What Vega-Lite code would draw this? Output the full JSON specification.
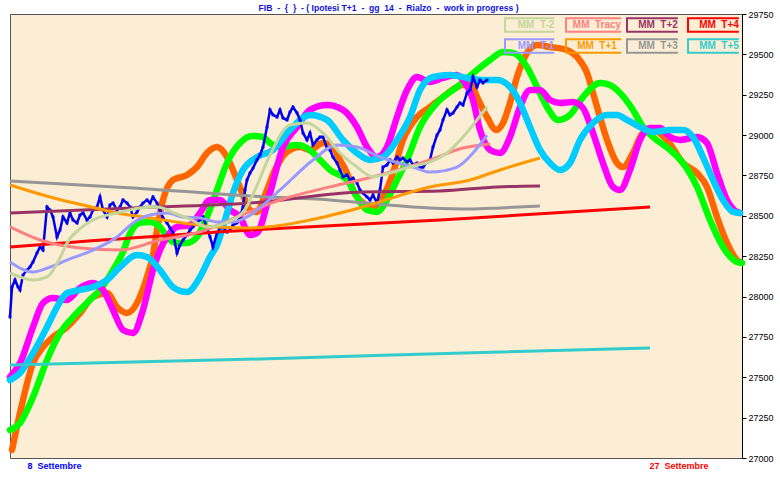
{
"$schema": "https://vega.github.io/schema/vega-lite/v6.json",
"width": 732, "height": 444,
"autosize": {"type": "none"},
"padding": {"left": 10, "top": 14, "right": 38, "bottom": 19},
"background": "white",
"config": {"view": {"fill": "#FBEED5", "stroke": "#555555", "strokeWidth": 1}, "font": "Liberation Sans"},
"title": {"text": "FIB\u00a0 -\u00a0 {\u00a0 }\u00a0 - ( Ipotesi T+1\u00a0 -\u00a0 gg\u00a0 14\u00a0 -\u00a0 Rialzo\u00a0 -\u00a0 work in progress )", "font": "Liberation Sans", "fontSize": 8.6, "fontWeight": "bold", "color": "#1010E0", "anchor": "middle", "frame": "bounds", "offset": -3},
"datasets": {
"thick": [
{"series":"Ciclo 1","t":12,"v":27050},{"series":"Ciclo 1","t":20,"v":27279},{"series":"Ciclo 1","t":33,"v":27588},{"series":"Ciclo 1","t":43,"v":27688},{"series":"Ciclo 1","t":53,"v":27749},{"series":"Ciclo 1","t":67,"v":27811},{"series":"Ciclo 1","t":80,"v":27898},{"series":"Ciclo 1","t":93,"v":27997},{"series":"Ciclo 1","t":107,"v":28022},{"series":"Ciclo 1","t":117,"v":27935},{"series":"Ciclo 1","t":127,"v":27898},{"series":"Ciclo 1","t":137,"v":27960},{"series":"Ciclo 1","t":147,"v":28121},{"series":"Ciclo 1","t":153,"v":28257},{"series":"Ciclo 1","t":157,"v":28412},{"series":"Ciclo 1","t":163,"v":28598},{"series":"Ciclo 1","t":173,"v":28722},{"series":"Ciclo 1","t":187,"v":28753},{"series":"Ciclo 1","t":197,"v":28802},{"series":"Ciclo 1","t":207,"v":28889},{"series":"Ciclo 1","t":217,"v":28926},{"series":"Ciclo 1","t":227,"v":28864},{"series":"Ciclo 1","t":235,"v":28753},{"series":"Ciclo 1","t":243,"v":28629},{"series":"Ciclo 1","t":250,"v":28536},{"series":"Ciclo 1","t":257,"v":28524},{"series":"Ciclo 1","t":265,"v":28629},{"series":"Ciclo 1","t":275,"v":28784},{"series":"Ciclo 1","t":287,"v":28895},{"series":"Ciclo 1","t":300,"v":28926},{"series":"Ciclo 1","t":310,"v":28908},{"series":"Ciclo 1","t":323,"v":28951},{"series":"Ciclo 1","t":333,"v":28926},{"series":"Ciclo 1","t":340,"v":28846},{"series":"Ciclo 1","t":347,"v":28765},{"series":"Ciclo 1","t":353,"v":28660},{"series":"Ciclo 1","t":363,"v":28579},{"series":"Ciclo 1","t":373,"v":28555},{"series":"Ciclo 1","t":383,"v":28617},{"series":"Ciclo 1","t":393,"v":28765},{"series":"Ciclo 1","t":403,"v":28970},{"series":"Ciclo 1","t":417,"v":29112},{"series":"Ciclo 1","t":430,"v":29174},{"series":"Ciclo 1","t":443,"v":29236},{"series":"Ciclo 1","t":457,"v":29298},{"series":"Ciclo 1","t":470,"v":29323},{"series":"Ciclo 1","t":477,"v":29236},{"series":"Ciclo 1","t":487,"v":29112},{"series":"Ciclo 1","t":496,"v":29032},{"series":"Ciclo 1","t":503,"v":29075},{"series":"Ciclo 1","t":510,"v":29199},{"series":"Ciclo 1","t":517,"v":29360},{"series":"Ciclo 1","t":527,"v":29509},{"series":"Ciclo 1","t":537,"v":29558},{"series":"Ciclo 1","t":550,"v":29546},{"series":"Ciclo 1","t":567,"v":29527},{"series":"Ciclo 1","t":577,"v":29484},{"series":"Ciclo 1","t":587,"v":29385},{"series":"Ciclo 1","t":593,"v":29261},{"series":"Ciclo 1","t":600,"v":29112},{"series":"Ciclo 1","t":607,"v":28970},{"series":"Ciclo 1","t":617,"v":28827},{"series":"Ciclo 1","t":623,"v":28802},{"series":"Ciclo 1","t":633,"v":28889},{"series":"Ciclo 1","t":643,"v":29013},{"series":"Ciclo 1","t":653,"v":29032},{"series":"Ciclo 1","t":667,"v":28970},{"series":"Ciclo 1","t":683,"v":28827},{"series":"Ciclo 1","t":697,"v":28765},{"series":"Ciclo 1","t":707,"v":28679},{"series":"Ciclo 1","t":717,"v":28493},{"series":"Ciclo 1","t":727,"v":28332},{"series":"Ciclo 1","t":737,"v":28226},{"series":"Ciclo 1","t":740,"v":28214},
{"series":"Ciclo 2","t":10,"v":27173},{"series":"Ciclo 2","t":20,"v":27217},{"series":"Ciclo 2","t":33,"v":27378},{"series":"Ciclo 2","t":47,"v":27607},{"series":"Ciclo 2","t":60,"v":27774},{"series":"Ciclo 2","t":73,"v":27873},{"series":"Ciclo 2","t":90,"v":27979},{"series":"Ciclo 2","t":100,"v":28041},{"series":"Ciclo 2","t":113,"v":28164},{"series":"Ciclo 2","t":123,"v":28276},{"series":"Ciclo 2","t":130,"v":28390},{"series":"Ciclo 2","t":140,"v":28456},{"series":"Ciclo 2","t":150,"v":28462},{"series":"Ciclo 2","t":160,"v":28431},{"series":"Ciclo 2","t":167,"v":28369},{"series":"Ciclo 2","t":177,"v":28332},{"series":"Ciclo 2","t":187,"v":28332},{"series":"Ciclo 2","t":197,"v":28369},{"series":"Ciclo 2","t":207,"v":28493},{"series":"Ciclo 2","t":217,"v":28660},{"series":"Ciclo 2","t":227,"v":28827},{"series":"Ciclo 2","t":240,"v":28951},{"series":"Ciclo 2","t":252,"v":28995},{"series":"Ciclo 2","t":262,"v":28990},{"series":"Ciclo 2","t":270,"v":28951},{"series":"Ciclo 2","t":280,"v":28926},{"series":"Ciclo 2","t":297,"v":28939},{"series":"Ciclo 2","t":307,"v":28920},{"series":"Ciclo 2","t":320,"v":28846},{"series":"Ciclo 2","t":330,"v":28784},{"series":"Ciclo 2","t":347,"v":28722},{"series":"Ciclo 2","t":357,"v":28617},{"series":"Ciclo 2","t":367,"v":28536},{"series":"Ciclo 2","t":377,"v":28524},{"series":"Ciclo 2","t":387,"v":28598},{"series":"Ciclo 2","t":397,"v":28722},{"series":"Ciclo 2","t":407,"v":28846},{"series":"Ciclo 2","t":420,"v":29050},{"series":"Ciclo 2","t":437,"v":29199},{"series":"Ciclo 2","t":457,"v":29298},{"series":"Ciclo 2","t":477,"v":29403},{"series":"Ciclo 2","t":490,"v":29465},{"series":"Ciclo 2","t":503,"v":29515},{"series":"Ciclo 2","t":513,"v":29509},{"series":"Ciclo 2","t":527,"v":29422},{"series":"Ciclo 2","t":537,"v":29298},{"series":"Ciclo 2","t":547,"v":29174},{"series":"Ciclo 2","t":558,"v":29094},{"series":"Ciclo 2","t":570,"v":29125},{"series":"Ciclo 2","t":583,"v":29236},{"series":"Ciclo 2","t":600,"v":29323},{"series":"Ciclo 2","t":610,"v":29310},{"series":"Ciclo 2","t":620,"v":29261},{"series":"Ciclo 2","t":633,"v":29156},{"series":"Ciclo 2","t":643,"v":29050},{"series":"Ciclo 2","t":653,"v":28988},{"series":"Ciclo 2","t":670,"v":28908},{"series":"Ciclo 2","t":683,"v":28827},{"series":"Ciclo 2","t":697,"v":28679},{"series":"Ciclo 2","t":710,"v":28474},{"series":"Ciclo 2","t":723,"v":28307},{"series":"Ciclo 2","t":737,"v":28214},{"series":"Ciclo 2","t":742,"v":28208},
{"series":"Ciclo 3","t":10,"v":27502},{"series":"Ciclo 3","t":20,"v":27588},{"series":"Ciclo 3","t":33,"v":27811},{"series":"Ciclo 3","t":43,"v":27960},{"series":"Ciclo 3","t":53,"v":27991},{"series":"Ciclo 3","t":67,"v":27979},{"series":"Ciclo 3","t":80,"v":28053},{"series":"Ciclo 3","t":93,"v":28084},{"series":"Ciclo 3","t":103,"v":28041},{"series":"Ciclo 3","t":113,"v":27917},{"series":"Ciclo 3","t":123,"v":27793},{"series":"Ciclo 3","t":133,"v":27774},{"series":"Ciclo 3","t":143,"v":27917},{"series":"Ciclo 3","t":153,"v":28164},{"series":"Ciclo 3","t":160,"v":28288},{"series":"Ciclo 3","t":167,"v":28369},{"series":"Ciclo 3","t":177,"v":28431},{"series":"Ciclo 3","t":190,"v":28443},{"series":"Ciclo 3","t":200,"v":28518},{"series":"Ciclo 3","t":210,"v":28598},{"series":"Ciclo 3","t":220,"v":28598},{"series":"Ciclo 3","t":230,"v":28536},{"series":"Ciclo 3","t":240,"v":28493},{"series":"Ciclo 3","t":250,"v":28381},{"series":"Ciclo 3","t":257,"v":28394},{"series":"Ciclo 3","t":270,"v":28641},{"series":"Ciclo 3","t":283,"v":28926},{"series":"Ciclo 3","t":297,"v":29050},{"series":"Ciclo 3","t":310,"v":29156},{"series":"Ciclo 3","t":327,"v":29186},{"series":"Ciclo 3","t":343,"v":29156},{"series":"Ciclo 3","t":357,"v":29050},{"series":"Ciclo 3","t":367,"v":28926},{"series":"Ciclo 3","t":377,"v":28864},{"series":"Ciclo 3","t":387,"v":28926},{"series":"Ciclo 3","t":397,"v":29112},{"series":"Ciclo 3","t":407,"v":29279},{"series":"Ciclo 3","t":417,"v":29360},{"series":"Ciclo 3","t":430,"v":29329},{"series":"Ciclo 3","t":443,"v":29354},{"series":"Ciclo 3","t":457,"v":29372},{"series":"Ciclo 3","t":463,"v":29341},{"series":"Ciclo 3","t":473,"v":29217},{"series":"Ciclo 3","t":480,"v":29032},{"series":"Ciclo 3","t":490,"v":28908},{"series":"Ciclo 3","t":500,"v":28889},{"series":"Ciclo 3","t":510,"v":28988},{"series":"Ciclo 3","t":520,"v":29174},{"series":"Ciclo 3","t":530,"v":29279},{"series":"Ciclo 3","t":540,"v":29279},{"series":"Ciclo 3","t":550,"v":29217},{"series":"Ciclo 3","t":560,"v":29199},{"series":"Ciclo 3","t":573,"v":29205},{"series":"Ciclo 3","t":583,"v":29168},{"series":"Ciclo 3","t":593,"v":29013},{"series":"Ciclo 3","t":603,"v":28827},{"series":"Ciclo 3","t":613,"v":28679},{"series":"Ciclo 3","t":620,"v":28660},{"series":"Ciclo 3","t":630,"v":28784},{"series":"Ciclo 3","t":640,"v":28970},{"series":"Ciclo 3","t":650,"v":29044},{"series":"Ciclo 3","t":660,"v":29044},{"series":"Ciclo 3","t":670,"v":28988},{"series":"Ciclo 3","t":680,"v":28970},{"series":"Ciclo 3","t":697,"v":28988},{"series":"Ciclo 3","t":707,"v":28951},{"series":"Ciclo 3","t":717,"v":28765},{"series":"Ciclo 3","t":727,"v":28598},{"series":"Ciclo 3","t":737,"v":28524},{"series":"Ciclo 3","t":740,"v":28518},
{"series":"Ciclo 4","t":10,"v":27483},{"series":"Ciclo 4","t":20,"v":27527},{"series":"Ciclo 4","t":33,"v":27650},{"series":"Ciclo 4","t":47,"v":27811},{"series":"Ciclo 4","t":57,"v":27935},{"series":"Ciclo 4","t":67,"v":28022},{"series":"Ciclo 4","t":80,"v":28041},{"series":"Ciclo 4","t":93,"v":28059},{"series":"Ciclo 4","t":107,"v":28103},{"series":"Ciclo 4","t":120,"v":28183},{"series":"Ciclo 4","t":137,"v":28257},{"series":"Ciclo 4","t":147,"v":28245},{"series":"Ciclo 4","t":160,"v":28164},{"series":"Ciclo 4","t":173,"v":28059},{"series":"Ciclo 4","t":187,"v":28028},{"series":"Ciclo 4","t":200,"v":28121},{"series":"Ciclo 4","t":210,"v":28245},{"series":"Ciclo 4","t":217,"v":28319},{"series":"Ciclo 4","t":225,"v":28474},{"series":"Ciclo 4","t":233,"v":28641},{"series":"Ciclo 4","t":243,"v":28784},{"series":"Ciclo 4","t":257,"v":28864},{"series":"Ciclo 4","t":273,"v":28908},{"series":"Ciclo 4","t":290,"v":29032},{"series":"Ciclo 4","t":310,"v":29125},{"series":"Ciclo 4","t":327,"v":29094},{"series":"Ciclo 4","t":343,"v":28970},{"series":"Ciclo 4","t":357,"v":28889},{"series":"Ciclo 4","t":370,"v":28846},{"series":"Ciclo 4","t":383,"v":28864},{"series":"Ciclo 4","t":397,"v":28970},{"series":"Ciclo 4","t":410,"v":29112},{"series":"Ciclo 4","t":420,"v":29279},{"series":"Ciclo 4","t":433,"v":29360},{"series":"Ciclo 4","t":450,"v":29372},{"series":"Ciclo 4","t":467,"v":29354},{"series":"Ciclo 4","t":483,"v":29341},{"series":"Ciclo 4","t":497,"v":29341},{"series":"Ciclo 4","t":510,"v":29298},{"series":"Ciclo 4","t":520,"v":29199},{"series":"Ciclo 4","t":530,"v":29050},{"series":"Ciclo 4","t":540,"v":28908},{"series":"Ciclo 4","t":550,"v":28827},{"series":"Ciclo 4","t":560,"v":28784},{"series":"Ciclo 4","t":570,"v":28827},{"series":"Ciclo 4","t":580,"v":28970},{"series":"Ciclo 4","t":593,"v":29075},{"series":"Ciclo 4","t":607,"v":29125},{"series":"Ciclo 4","t":617,"v":29125},{"series":"Ciclo 4","t":627,"v":29094},{"series":"Ciclo 4","t":640,"v":29050},{"series":"Ciclo 4","t":653,"v":29019},{"series":"Ciclo 4","t":670,"v":29032},{"series":"Ciclo 4","t":683,"v":29032},{"series":"Ciclo 4","t":693,"v":28988},{"series":"Ciclo 4","t":703,"v":28864},{"series":"Ciclo 4","t":713,"v":28722},{"series":"Ciclo 4","t":723,"v":28598},{"series":"Ciclo 4","t":733,"v":28524},{"series":"Ciclo 4","t":740,"v":28518}
],
"price": [
{"t":10,"v":27873},{"t":12,"v":28059},{"t":15,"v":28103},{"t":18,"v":28060},{"t":20,"v":28041},{"t":23,"v":28133},{"t":27,"v":28164},{"t":30,"v":28183},{"t":33,"v":28214},{"t":37,"v":28270},{"t":40,"v":28307},{"t":43,"v":28288},{"t":47,"v":28555},{"t":50,"v":28536},{"t":53,"v":28493},{"t":57,"v":28369},{"t":60,"v":28412},{"t":63,"v":28493},{"t":67,"v":28456},{"t":70,"v":28518},{"t":73,"v":28474},{"t":77,"v":28456},{"t":80,"v":28505},{"t":83,"v":28518},{"t":87,"v":28474},{"t":90,"v":28493},{"t":93,"v":28536},{"t":97,"v":28555},{"t":100,"v":28617},{"t":103,"v":28536},{"t":107,"v":28493},{"t":110,"v":28567},{"t":113,"v":28579},{"t":117,"v":28536},{"t":120,"v":28555},{"t":123,"v":28598},{"t":127,"v":28579},{"t":130,"v":28555},{"t":133,"v":28493},{"t":137,"v":28524},{"t":140,"v":28555},{"t":143,"v":28579},{"t":147,"v":28598},{"t":150,"v":28579},{"t":153,"v":28617},{"t":157,"v":28579},{"t":160,"v":28536},{"t":163,"v":28487},{"t":167,"v":28456},{"t":170,"v":28425},{"t":173,"v":28394},{"t":177,"v":28270},{"t":180,"v":28319},{"t":183,"v":28350},{"t":187,"v":28381},{"t":190,"v":28412},{"t":193,"v":28431},{"t":197,"v":28456},{"t":200,"v":28474},{"t":203,"v":28493},{"t":207,"v":28425},{"t":210,"v":28369},{"t":213,"v":28307},{"t":217,"v":28394},{"t":220,"v":28425},{"t":223,"v":28431},{"t":227,"v":28400},{"t":230,"v":28412},{"t":233,"v":28443},{"t":237,"v":28456},{"t":240,"v":28493},{"t":243,"v":28555},{"t":245,"v":28660},{"t":247,"v":28722},{"t":250,"v":28765},{"t":253,"v":28796},{"t":257,"v":28846},{"t":260,"v":28877},{"t":263,"v":28926},{"t":267,"v":29050},{"t":270,"v":29156},{"t":273,"v":29125},{"t":277,"v":29112},{"t":280,"v":29156},{"t":283,"v":29106},{"t":287,"v":29094},{"t":290,"v":29143},{"t":293,"v":29174},{"t":297,"v":29137},{"t":300,"v":29094},{"t":303,"v":29013},{"t":307,"v":28970},{"t":310,"v":29013},{"t":313,"v":28939},{"t":317,"v":28970},{"t":320,"v":28988},{"t":323,"v":28988},{"t":327,"v":28920},{"t":330,"v":28908},{"t":333,"v":28864},{"t":337,"v":28827},{"t":340,"v":28784},{"t":343,"v":28741},{"t":347,"v":28753},{"t":350,"v":28722},{"t":353,"v":28734},{"t":357,"v":28703},{"t":360,"v":28660},{"t":363,"v":28641},{"t":367,"v":28617},{"t":370,"v":28598},{"t":373,"v":28629},{"t":377,"v":28579},{"t":380,"v":28660},{"t":383,"v":28802},{"t":387,"v":28815},{"t":390,"v":28846},{"t":393,"v":28827},{"t":397,"v":28864},{"t":400,"v":28846},{"t":403,"v":28858},{"t":407,"v":28834},{"t":410,"v":28846},{"t":413,"v":28815},{"t":417,"v":28827},{"t":420,"v":28796},{"t":423,"v":28802},{"t":427,"v":28834},{"t":430,"v":28846},{"t":433,"v":28926},{"t":437,"v":29000},{"t":440,"v":29032},{"t":443,"v":29094},{"t":447,"v":29156},{"t":450,"v":29125},{"t":453,"v":29137},{"t":457,"v":29174},{"t":460,"v":29199},{"t":463,"v":29186},{"t":467,"v":29261},{"t":470,"v":29279},{"t":473,"v":29360},{"t":477,"v":29298},{"t":480,"v":29341},{"t":483,"v":29323},{"t":487,"v":29341}
],
"mm": [
{"series":"MM T+5","t":10,"v":27576},{"series":"MM T+5","t":260,"v":27613},{"series":"MM T+5","t":500,"v":27657},{"series":"MM T+5","t":650,"v":27681},
{"series":"MM T+3","t":10,"v":28716},{"series":"MM T+3","t":133,"v":28673},{"series":"MM T+3","t":250,"v":28623},{"series":"MM T+3","t":330,"v":28598},{"series":"MM T+3","t":377,"v":28573},{"series":"MM T+3","t":430,"v":28549},{"series":"MM T+3","t":470,"v":28542},{"series":"MM T+3","t":500,"v":28549},{"series":"MM T+3","t":540,"v":28561},
{"series":"MM T+2","t":10,"v":28518},{"series":"MM T+2","t":133,"v":28549},{"series":"MM T+2","t":250,"v":28579},{"series":"MM T+2","t":363,"v":28648},{"series":"MM T+2","t":440,"v":28654},{"series":"MM T+2","t":497,"v":28679},{"series":"MM T+2","t":540,"v":28685},
{"series":"MM T+4","t":10,"v":28307},{"series":"MM T+4","t":250,"v":28412},{"series":"MM T+4","t":440,"v":28474},{"series":"MM T+4","t":650,"v":28555},
{"series":"MM T+1","t":10,"v":28691},{"series":"MM T+1","t":50,"v":28617},{"series":"MM T+1","t":83,"v":28567},{"series":"MM T+1","t":117,"v":28518},{"series":"MM T+1","t":150,"v":28487},{"series":"MM T+1","t":183,"v":28456},{"series":"MM T+1","t":217,"v":28431},{"series":"MM T+1","t":250,"v":28425},{"series":"MM T+1","t":280,"v":28440},{"series":"MM T+1","t":310,"v":28474},{"series":"MM T+1","t":363,"v":28555},{"series":"MM T+1","t":430,"v":28679},{"series":"MM T+1","t":470,"v":28722},{"series":"MM T+1","t":500,"v":28784},{"series":"MM T+1","t":540,"v":28858},
{"series":"MM Tracy","t":10,"v":28431},{"series":"MM Tracy","t":40,"v":28350},{"series":"MM Tracy","t":80,"v":28301},{"series":"MM Tracy","t":120,"v":28288},{"series":"MM Tracy","t":160,"v":28350},{"series":"MM Tracy","t":200,"v":28400},{"series":"MM Tracy","t":230,"v":28474},{"series":"MM Tracy","t":280,"v":28598},{"series":"MM Tracy","t":330,"v":28679},{"series":"MM Tracy","t":380,"v":28753},{"series":"MM Tracy","t":430,"v":28846},{"series":"MM Tracy","t":463,"v":28920},{"series":"MM Tracy","t":490,"v":28945},
{"series":"MM T-1","t":10,"v":28214},{"series":"MM T-1","t":33,"v":28152},{"series":"MM T-1","t":50,"v":28183},{"series":"MM T-1","t":67,"v":28226},{"series":"MM T-1","t":93,"v":28288},{"series":"MM T-1","t":117,"v":28369},{"series":"MM T-1","t":133,"v":28456},{"series":"MM T-1","t":150,"v":28505},{"series":"MM T-1","t":167,"v":28518},{"series":"MM T-1","t":183,"v":28493},{"series":"MM T-1","t":200,"v":28487},{"series":"MM T-1","t":217,"v":28462},{"series":"MM T-1","t":233,"v":28462},{"series":"MM T-1","t":247,"v":28493},{"series":"MM T-1","t":280,"v":28660},{"series":"MM T-1","t":313,"v":28846},{"series":"MM T-1","t":337,"v":28939},{"series":"MM T-1","t":357,"v":28926},{"series":"MM T-1","t":380,"v":28864},{"series":"MM T-1","t":413,"v":28802},{"series":"MM T-1","t":430,"v":28771},{"series":"MM T-1","t":457,"v":28802},{"series":"MM T-1","t":473,"v":28889},{"series":"MM T-1","t":487,"v":29000},
{"series":"MM T-2","t":10,"v":28146},{"series":"MM T-2","t":33,"v":28103},{"series":"MM T-2","t":47,"v":28121},{"series":"MM T-2","t":60,"v":28240},{"series":"MM T-2","t":67,"v":28332},{"series":"MM T-2","t":80,"v":28420},{"series":"MM T-2","t":93,"v":28474},{"series":"MM T-2","t":117,"v":28518},{"series":"MM T-2","t":140,"v":28549},{"series":"MM T-2","t":157,"v":28555},{"series":"MM T-2","t":177,"v":28510},{"series":"MM T-2","t":190,"v":28480},{"series":"MM T-2","t":207,"v":28431},{"series":"MM T-2","t":227,"v":28460},{"series":"MM T-2","t":245,"v":28540},{"series":"MM T-2","t":255,"v":28660},{"series":"MM T-2","t":270,"v":28877},{"series":"MM T-2","t":290,"v":29063},{"series":"MM T-2","t":307,"v":29075},{"series":"MM T-2","t":323,"v":29013},{"series":"MM T-2","t":340,"v":28889},{"series":"MM T-2","t":357,"v":28802},{"series":"MM T-2","t":373,"v":28741},{"series":"MM T-2","t":390,"v":28765},{"series":"MM T-2","t":410,"v":28802},{"series":"MM T-2","t":430,"v":28834},{"series":"MM T-2","t":447,"v":28889},{"series":"MM T-2","t":463,"v":28988},{"series":"MM T-2","t":477,"v":29094},{"series":"MM T-2","t":487,"v":29174}
]
},
"encoding": {
"x": {"field": "t", "type": "quantitative", "scale": {"domain": [10, 742], "nice": false, "zero": false},
 "axis": {"values": [10, 742], "title": null, "domain": false, "ticks": false, "grid": false, "labelFlush": true, "labelFont": "Liberation Sans", "labelFontSize": 9, "labelFontWeight": "bold", "labelPadding": 3,
  "labelExpr": "datum.value < 100 ? '8\u00a0 Settembre' : '27\u00a0 Settembre'",
  "labelColor": {"expr": "datum.value < 100 ? '#0000FF' : '#FF0000'"},
  "labelOffset": {"expr": "datum.value < 100 ? 17 : -34"}}},
"y": {"field": "v", "type": "quantitative", "scale": {"domain": [27000, 29750], "nice": false, "zero": false},
 "axis": {"orient": "right", "values": [27000,27250,27500,27750,28000,28250,28500,28750,29000,29250,29500,29750], "format": "d", "title": null, "grid": false, "domainColor": "#000000", "tickColor": "#000000", "tickSize": 4, "labelFont": "Liberation Sans", "labelFontSize": 9, "labelColor": "#000000", "labelPadding": 2}}
},
"layer": [
{"data": {"name": "thick"}, "mark": {"type": "line", "strokeWidth": 6.5, "interpolate": "monotone", "strokeJoin": "round", "strokeCap": "round"},
 "encoding": {"stroke": {"field": "series", "type": "nominal", "scale": {"domain": ["Ciclo 1","Ciclo 2","Ciclo 3","Ciclo 4"], "range": ["#FF6600","#00FF00","#FF00FF","#00CCFF"]}, "legend": null}}},
{"data": {"name": "price"}, "mark": {"type": "line", "color": "#0000F0", "strokeWidth": 2.5, "point": {"filled": true, "size": 8, "shape": "square", "color": "#0000F0"}}},
{"data": {"name": "mm"}, "mark": {"type": "line", "strokeWidth": 3, "interpolate": "monotone"},
 "encoding": {"color": {"field": "series", "type": "nominal",
  "scale": {"domain": ["MM T-2","MM Tracy","MM T+2","MM T+4","MM T-1","MM T+1","MM T+3","MM T+5"], "range": ["#C3D69B","#FF8080","#993366","#FF0000","#9999FF","#FF9900","#969696","#33CCCC"]},
  "legend": {"orient": "top-right", "offset": 3, "columns": 4, "direction": "horizontal", "title": null, "padding": 0,
   "symbolType": "M-1,-0.22H1V0.22H-1Z", "symbolSize": 3844, "symbolStrokeWidth": 2, "symbolFillColor": "transparent",
   "clipHeight": 16, "labelAlign": "center", "labelOffset": -32, "labelFont": "Liberation Sans", "labelFontSize": 10, "labelFontWeight": "bold",
   "labelColor": {"expr": "scale('color', datum.value)"},
   "labelExpr": "replace(datum.label, ' ', '\u00a0\u00a0')",
   "columnPadding": 4, "rowPadding": 5, "gridAlign": "all", "labelLimit": 0}}}}
]
}
